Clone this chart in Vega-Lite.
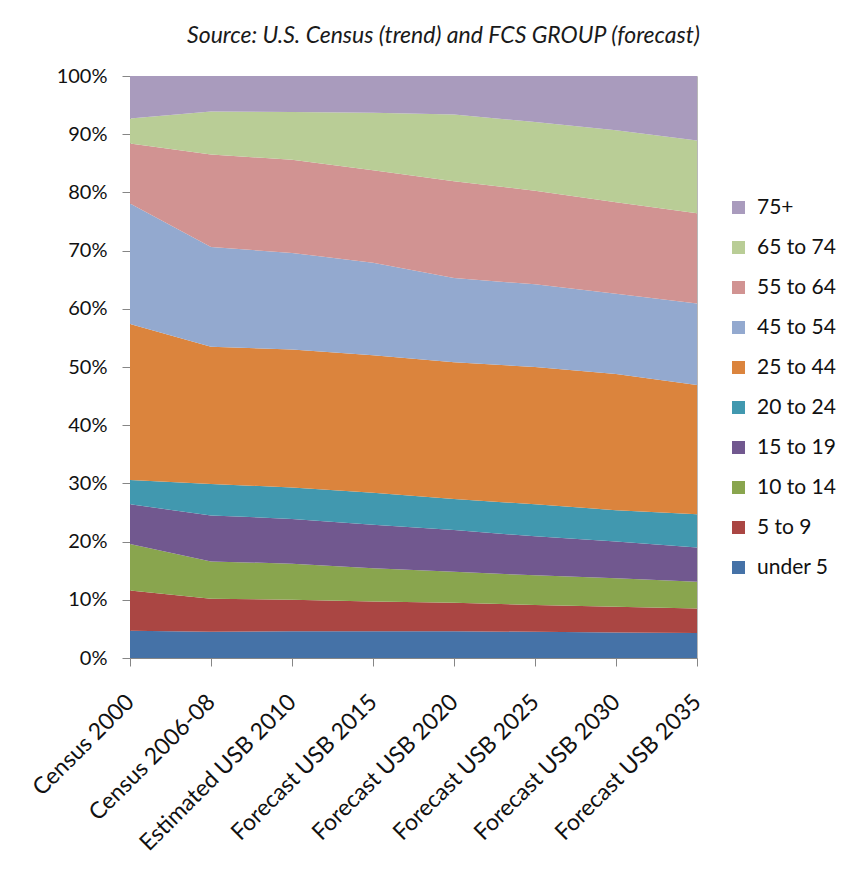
{
  "$schema": "https://vega.github.io/schema/vega-lite/v6.json",
  "autosize": "none",
  "width": 567,
  "height": 582,
  "padding": {"left": 130, "top": 76, "right": 168, "bottom": 230},
  "background": "white",
  "title": {
    "text": "Source: U.S. Census (trend) and FCS GROUP (forecast)",
    "font": "Lato",
    "fontSize": 23,
    "fontStyle": "italic",
    "fontWeight": "normal",
    "color": "#1a1a1a",
    "anchor": "middle",
    "dx": 30,
    "offset": 0,
    "baseline": "alphabetic"
  },
  "config": {
    "font": "Lato",
    "view": {"stroke": "#b8b8b8", "strokeWidth": 1},
    "axis": {"grid": false, "domainColor": "#868686", "tickColor": "#868686", "tickSize": 8, "labelColor": "#111111", "labelFont": "Lato", "labelFontSize": 20, "labelLimit": 0, "title": null}
  },
  "data": {
    "values": [
      {"period": "Census 2000", "group": "under 5", "k": 1, "value": 4.7},
      {"period": "Census 2000", "group": "5 to 9", "k": 2, "value": 6.9},
      {"period": "Census 2000", "group": "10 to 14", "k": 3, "value": 8.0},
      {"period": "Census 2000", "group": "15 to 19", "k": 4, "value": 6.8},
      {"period": "Census 2000", "group": "20 to 24", "k": 5, "value": 4.2},
      {"period": "Census 2000", "group": "25 to 44", "k": 6, "value": 26.8},
      {"period": "Census 2000", "group": "45 to 54", "k": 7, "value": 20.7},
      {"period": "Census 2000", "group": "55 to 64", "k": 8, "value": 10.3},
      {"period": "Census 2000", "group": "65 to 74", "k": 9, "value": 4.3},
      {"period": "Census 2000", "group": "75+", "k": 10, "value": 7.3},
      {"period": "Census 2006-08", "group": "under 5", "k": 1, "value": 4.5},
      {"period": "Census 2006-08", "group": "5 to 9", "k": 2, "value": 5.7},
      {"period": "Census 2006-08", "group": "10 to 14", "k": 3, "value": 6.4},
      {"period": "Census 2006-08", "group": "15 to 19", "k": 4, "value": 7.9},
      {"period": "Census 2006-08", "group": "20 to 24", "k": 5, "value": 5.4},
      {"period": "Census 2006-08", "group": "25 to 44", "k": 6, "value": 23.6},
      {"period": "Census 2006-08", "group": "45 to 54", "k": 7, "value": 17.1},
      {"period": "Census 2006-08", "group": "55 to 64", "k": 8, "value": 15.9},
      {"period": "Census 2006-08", "group": "65 to 74", "k": 9, "value": 7.4},
      {"period": "Census 2006-08", "group": "75+", "k": 10, "value": 6.1},
      {"period": "Estimated  USB 2010", "group": "under 5", "k": 1, "value": 4.6},
      {"period": "Estimated  USB 2010", "group": "5 to 9", "k": 2, "value": 5.4},
      {"period": "Estimated  USB 2010", "group": "10 to 14", "k": 3, "value": 6.2},
      {"period": "Estimated  USB 2010", "group": "15 to 19", "k": 4, "value": 7.7},
      {"period": "Estimated  USB 2010", "group": "20 to 24", "k": 5, "value": 5.4},
      {"period": "Estimated  USB 2010", "group": "25 to 44", "k": 6, "value": 23.7},
      {"period": "Estimated  USB 2010", "group": "45 to 54", "k": 7, "value": 16.6},
      {"period": "Estimated  USB 2010", "group": "55 to 64", "k": 8, "value": 16.0},
      {"period": "Estimated  USB 2010", "group": "65 to 74", "k": 9, "value": 8.2},
      {"period": "Estimated  USB 2010", "group": "75+", "k": 10, "value": 6.2},
      {"period": "Forecast USB 2015", "group": "under 5", "k": 1, "value": 4.6},
      {"period": "Forecast USB 2015", "group": "5 to 9", "k": 2, "value": 5.1},
      {"period": "Forecast USB 2015", "group": "10 to 14", "k": 3, "value": 5.7},
      {"period": "Forecast USB 2015", "group": "15 to 19", "k": 4, "value": 7.5},
      {"period": "Forecast USB 2015", "group": "20 to 24", "k": 5, "value": 5.5},
      {"period": "Forecast USB 2015", "group": "25 to 44", "k": 6, "value": 23.6},
      {"period": "Forecast USB 2015", "group": "45 to 54", "k": 7, "value": 15.9},
      {"period": "Forecast USB 2015", "group": "55 to 64", "k": 8, "value": 15.9},
      {"period": "Forecast USB 2015", "group": "65 to 74", "k": 9, "value": 9.9},
      {"period": "Forecast USB 2015", "group": "75+", "k": 10, "value": 6.3},
      {"period": "Forecast USB 2020", "group": "under 5", "k": 1, "value": 4.6},
      {"period": "Forecast USB 2020", "group": "5 to 9", "k": 2, "value": 4.9},
      {"period": "Forecast USB 2020", "group": "10 to 14", "k": 3, "value": 5.3},
      {"period": "Forecast USB 2020", "group": "15 to 19", "k": 4, "value": 7.2},
      {"period": "Forecast USB 2020", "group": "20 to 24", "k": 5, "value": 5.3},
      {"period": "Forecast USB 2020", "group": "25 to 44", "k": 6, "value": 23.5},
      {"period": "Forecast USB 2020", "group": "45 to 54", "k": 7, "value": 14.5},
      {"period": "Forecast USB 2020", "group": "55 to 64", "k": 8, "value": 16.6},
      {"period": "Forecast USB 2020", "group": "65 to 74", "k": 9, "value": 11.5},
      {"period": "Forecast USB 2020", "group": "75+", "k": 10, "value": 6.6},
      {"period": "Forecast USB 2025", "group": "under 5", "k": 1, "value": 4.5},
      {"period": "Forecast USB 2025", "group": "5 to 9", "k": 2, "value": 4.6},
      {"period": "Forecast USB 2025", "group": "10 to 14", "k": 3, "value": 5.1},
      {"period": "Forecast USB 2025", "group": "15 to 19", "k": 4, "value": 6.7},
      {"period": "Forecast USB 2025", "group": "20 to 24", "k": 5, "value": 5.5},
      {"period": "Forecast USB 2025", "group": "25 to 44", "k": 6, "value": 23.6},
      {"period": "Forecast USB 2025", "group": "45 to 54", "k": 7, "value": 14.2},
      {"period": "Forecast USB 2025", "group": "55 to 64", "k": 8, "value": 16.1},
      {"period": "Forecast USB 2025", "group": "65 to 74", "k": 9, "value": 11.8},
      {"period": "Forecast USB 2025", "group": "75+", "k": 10, "value": 7.9},
      {"period": "Forecast USB 2030", "group": "under 5", "k": 1, "value": 4.4},
      {"period": "Forecast USB 2030", "group": "5 to 9", "k": 2, "value": 4.4},
      {"period": "Forecast USB 2030", "group": "10 to 14", "k": 3, "value": 4.9},
      {"period": "Forecast USB 2030", "group": "15 to 19", "k": 4, "value": 6.3},
      {"period": "Forecast USB 2030", "group": "20 to 24", "k": 5, "value": 5.4},
      {"period": "Forecast USB 2030", "group": "25 to 44", "k": 6, "value": 23.4},
      {"period": "Forecast USB 2030", "group": "45 to 54", "k": 7, "value": 13.8},
      {"period": "Forecast USB 2030", "group": "55 to 64", "k": 8, "value": 15.7},
      {"period": "Forecast USB 2030", "group": "65 to 74", "k": 9, "value": 12.4},
      {"period": "Forecast USB 2030", "group": "75+", "k": 10, "value": 9.3},
      {"period": "Forecast USB 2035", "group": "under 5", "k": 1, "value": 4.3},
      {"period": "Forecast USB 2035", "group": "5 to 9", "k": 2, "value": 4.2},
      {"period": "Forecast USB 2035", "group": "10 to 14", "k": 3, "value": 4.6},
      {"period": "Forecast USB 2035", "group": "15 to 19", "k": 4, "value": 5.9},
      {"period": "Forecast USB 2035", "group": "20 to 24", "k": 5, "value": 5.7},
      {"period": "Forecast USB 2035", "group": "25 to 44", "k": 6, "value": 22.2},
      {"period": "Forecast USB 2035", "group": "45 to 54", "k": 7, "value": 14.0},
      {"period": "Forecast USB 2035", "group": "55 to 64", "k": 8, "value": 15.5},
      {"period": "Forecast USB 2035", "group": "65 to 74", "k": 9, "value": 12.5},
      {"period": "Forecast USB 2035", "group": "75+", "k": 10, "value": 11.1}
    ]
  },
  "mark": {"type": "area", "opacity": 1},
  "encoding": {
    "x": {
      "field": "period",
      "type": "ordinal",
      "sort": null,
      "scale": {"type": "point", "padding": 0},
      "axis": {"labelAngle": -45, "labelAlign": "right", "labelBaseline": "middle", "labelPadding": 32, "labelFontSize": 23}
    },
    "y": {
      "field": "value",
      "type": "quantitative",
      "stack": "normalize",
      "scale": {"domain": [0, 1], "nice": false},
      "axis": {"format": ".0%", "values": [0, 0.1, 0.2, 0.3, 0.4, 0.5, 0.6, 0.7, 0.8, 0.9, 1], "labelPadding": 15}
    },
    "order": {"field": "k", "type": "quantitative", "sort": "ascending"},
    "color": {
      "field": "group",
      "type": "nominal",
      "scale": {
        "domain": ["75+", "65 to 74", "55 to 64", "45 to 54", "25 to 44", "20 to 24", "15 to 19", "10 to 14", "5 to 9", "under 5"],
        "range": ["#A99BBD", "#B9CD96", "#D19392", "#93A9CF", "#DB843D", "#4198AF", "#71588F", "#89A54E", "#AA4643", "#4572A7"]
      },
      "legend": {
        "title": null,
        "orient": "none",
        "legendX": 598,
        "legendY": 121,
        "symbolType": "square",
        "symbolSize": 169,
        "symbolStrokeWidth": 0,
        "symbolOpacity": 1,
        "labelFont": "Lato",
        "labelFontSize": 21,
        "labelColor": "#111111",
        "labelOffset": 8,
        "rowPadding": 18
      }
    }
  }
}
